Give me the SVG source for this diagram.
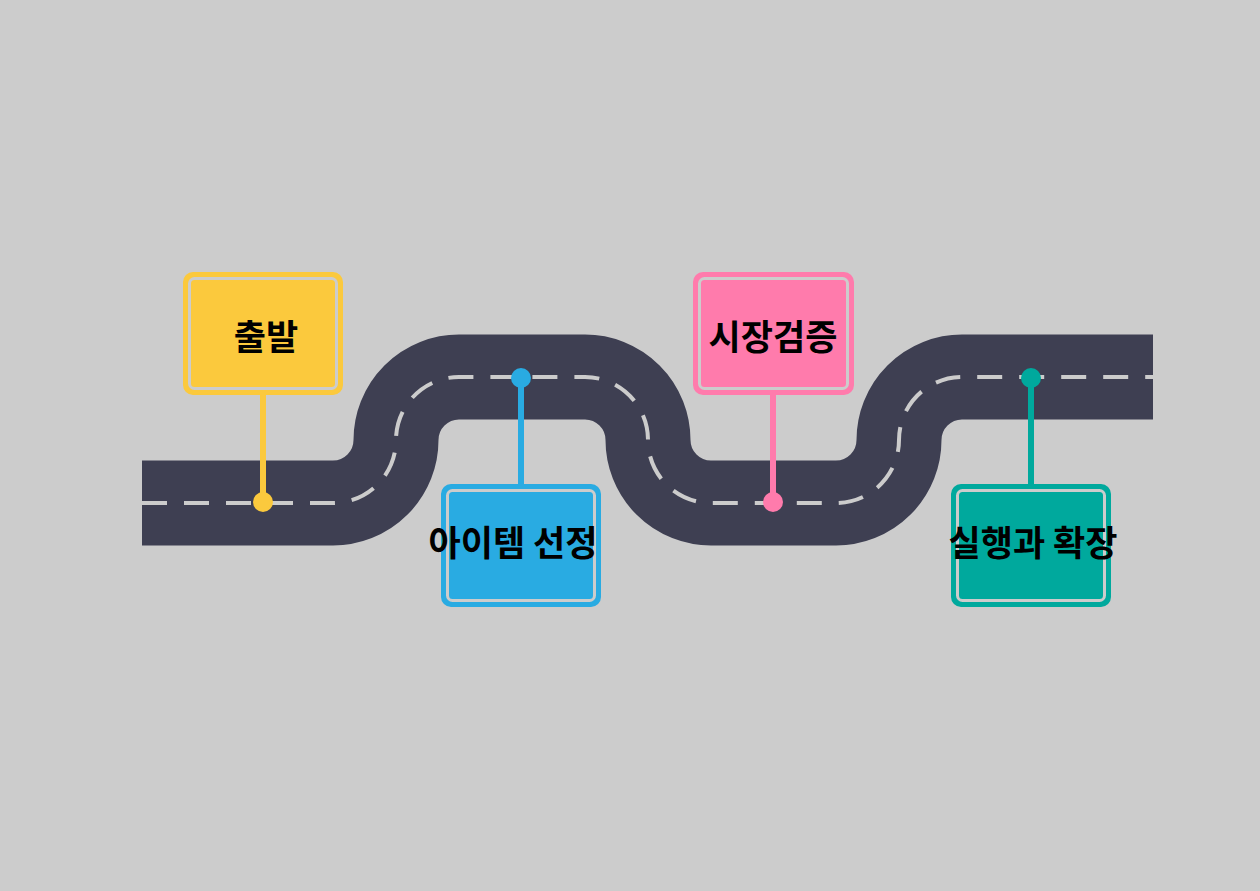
<svg xmlns="http://www.w3.org/2000/svg" width="1260" height="891" viewBox="0 0 1260 891">
<style>
.road{fill:none;stroke:#3e3f52;stroke-width:85}
.dash{fill:none;stroke:#cccccc;stroke-width:4;stroke-dasharray:25 17}
.outer{stroke-width:4}
.inner{stroke:#cccccc;stroke-width:3}
.pole{stroke-width:6}
text{font-family:"Noto Sans CJK KR","Noto Sans",sans-serif;font-weight:bold;font-size:35px;text-anchor:middle;fill:#000}
</style>
<rect width="1260" height="891" fill="#cccccc"/>
<g id="connectors">
<path class="road" d="M142,503 H333 A63,63 0 0 0 396,440 A63,63 0 0 1 459,377 H585 A63,63 0 0 1 648,440 A63,63 0 0 0 711,503 H836 A63,63 0 0 0 899,440 A63,63 0 0 1 962,377 H1153"/>
<path class="dash" d="M142,503 H333 A63,63 0 0 0 396,440 A63,63 0 0 1 459,377 H585 A63,63 0 0 1 648,440 A63,63 0 0 0 711,503 H836 A63,63 0 0 0 899,440 A63,63 0 0 1 962,377 H1153"/>
</g>
<g id="n1">
<line class="pole" x1="263" y1="395" x2="263" y2="502" stroke="#fbc93d"/>
<circle cx="263" cy="502" r="10" fill="#fbc93d"/>
<rect class="outer" x="185" y="274" width="156" height="119" rx="8" fill="#fbc93d" stroke="#fbc93d"/>
<rect class="inner" x="189.5" y="278.5" width="147" height="110" rx="5" fill="#fbc93d"/>
<text x="266" y="350">출발</text>
</g>
<g id="n2">
<line class="pole" x1="521" y1="378" x2="521" y2="486" stroke="#29abe2"/>
<circle cx="521" cy="378" r="10" fill="#29abe2"/>
<rect class="outer" x="443" y="486" width="156" height="119" rx="8" fill="#29abe2" stroke="#29abe2"/>
<rect class="inner" x="447.5" y="490.5" width="147" height="110" rx="5" fill="#29abe2"/>
<text x="513" y="556">아이템 선정</text>
</g>
<g id="n3">
<line class="pole" x1="773" y1="395" x2="773" y2="502" stroke="#ff7bac"/>
<circle cx="773" cy="502" r="10" fill="#ff7bac"/>
<rect class="outer" x="695" y="274" width="157" height="119" rx="8" fill="#ff7bac" stroke="#ff7bac"/>
<rect class="inner" x="699.5" y="278.5" width="148" height="110" rx="5" fill="#ff7bac"/>
<text x="773" y="350">시장검증</text>
</g>
<g id="n4">
<line class="pole" x1="1031" y1="378" x2="1031" y2="486" stroke="#00a99d"/>
<circle cx="1031" cy="378" r="10" fill="#00a99d"/>
<rect class="outer" x="953" y="486" width="156" height="119" rx="8" fill="#00a99d" stroke="#00a99d"/>
<rect class="inner" x="957.5" y="490.5" width="147" height="110" rx="5" fill="#00a99d"/>
<text x="1033" y="556">실행과 확장</text>
</g>
</svg>
